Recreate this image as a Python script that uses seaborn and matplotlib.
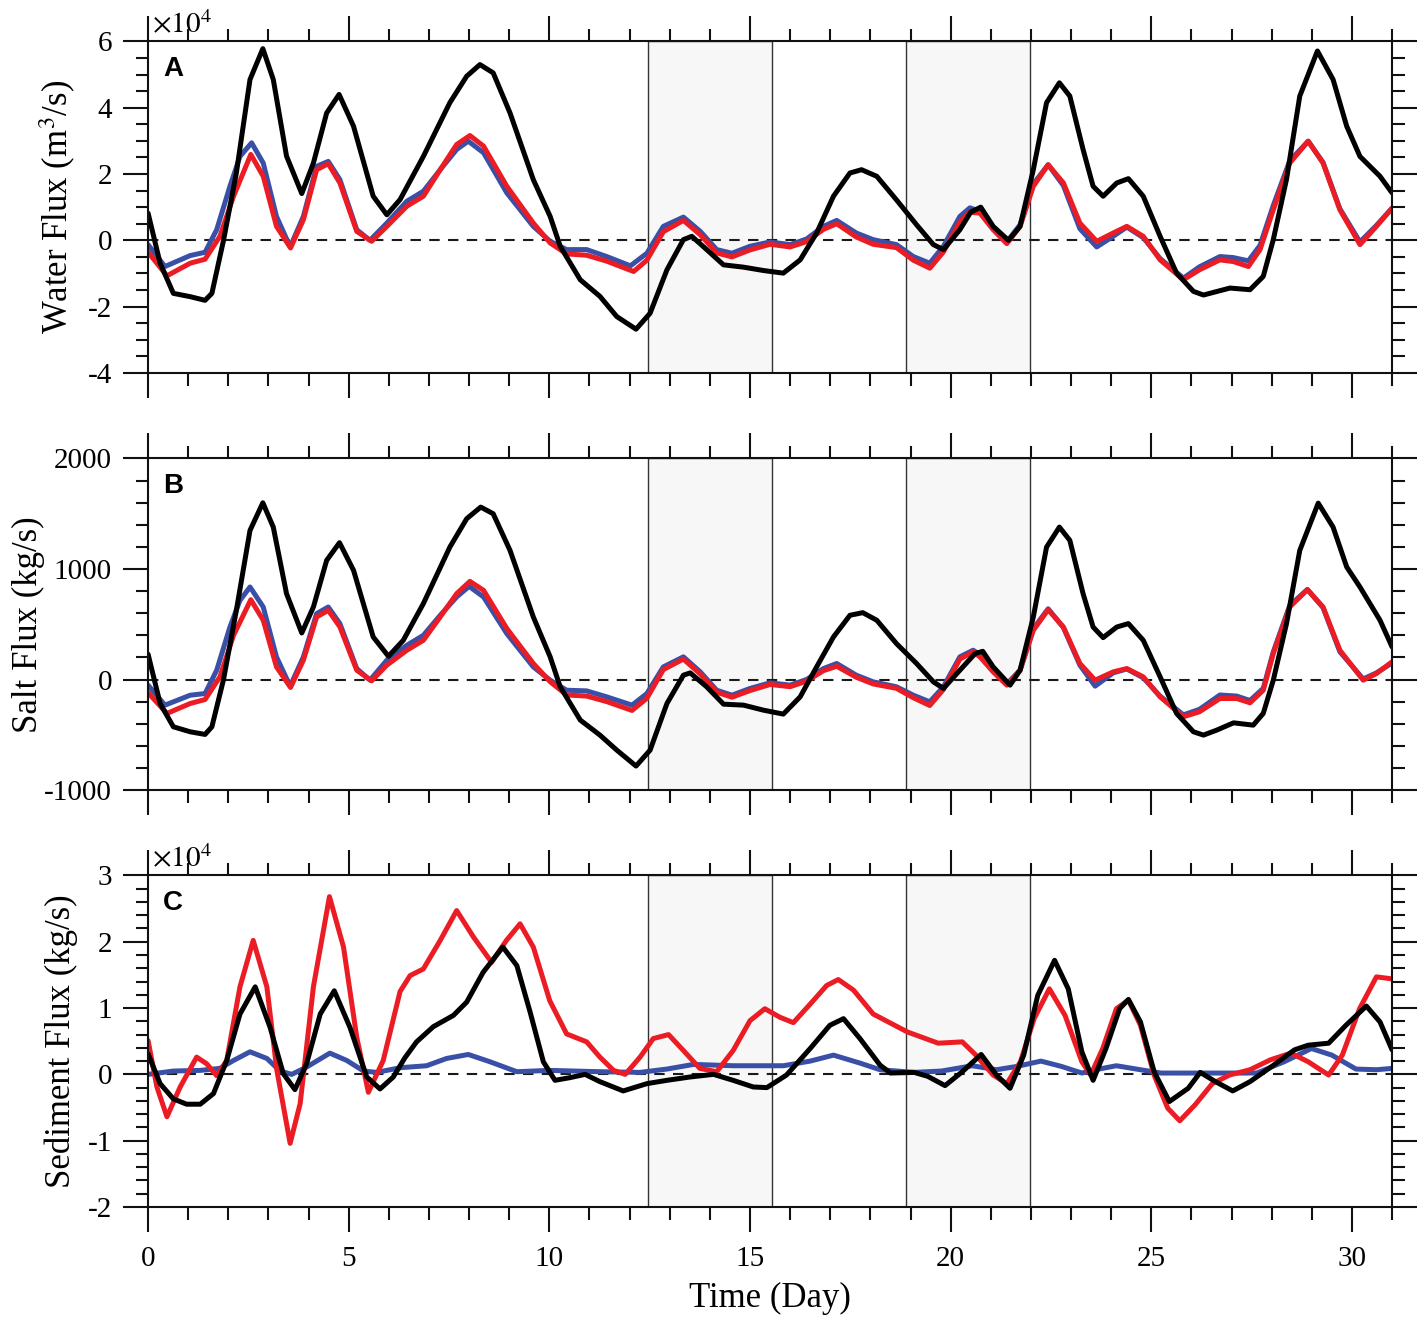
import numpy as np
import seaborn as sns
import matplotlib.pyplot as plt
from matplotlib.ticker import MultipleLocator

# (time in days, value) pairs
# Panel A: water flux, units of 1e4 m3/s
water_black = [(0, 0.82), (0.3, -0.69), (0.63, -1.6), (1.05, -1.7), (1.42, -1.81), (1.59, -1.6),
               (1.88, 0.0), (2.2, 2.03), (2.54, 4.85), (2.86, 5.78), (3.12, 4.85), (3.45, 2.54),
               (3.83, 1.41), (4.12, 2.33), (4.45, 3.84), (4.76, 4.4), (5.12, 3.44), (5.61, 1.33),
               (5.95, 0.77), (6.28, 1.23), (6.86, 2.53), (7.52, 4.15), (7.94, 4.95), (8.27, 5.3),
               (8.6, 5.05), (9.02, 3.84), (9.6, 1.83), (10.02, 0.72), (10.27, -0.18), (10.77, -1.19),
               (11.26, -1.69), (11.68, -2.3), (12.16, -2.68), (12.51, -2.2), (12.93, -0.89),
               (13.34, 0.02), (13.55, 0.12), (13.92, -0.28), (14.34, -0.74), (14.84, -0.81),
               (15.33, -0.91), (15.83, -0.99), (16.25, -0.59), (16.66, 0.22), (17.08, 1.33),
               (17.49, 2.03), (17.78, 2.13), (18.16, 1.93), (18.65, 1.22), (19.15, 0.47),
               (19.57, -0.13), (19.82, -0.28), (20.23, 0.32), (20.5, 0.85), (20.75, 1.0),
               (21.06, 0.42), (21.44, 0.0), (21.73, 0.42), (22.06, 2.13), (22.39, 4.15),
               (22.71, 4.75), (22.97, 4.35), (23.3, 2.74), (23.55, 1.63), (23.8, 1.33),
               (24.14, 1.73), (24.43, 1.86), (24.8, 1.33), (25.22, 0.12), (25.63, -0.99),
               (26.05, -1.54), (26.3, -1.65), (26.96, -1.44), (27.46, -1.49), (27.79, -1.09),
               (28.04, 0.02), (28.37, 1.84), (28.7, 4.35), (29.14, 5.71), (29.53, 4.85),
               (29.87, 3.44), (30.2, 2.53), (30.7, 1.93), (31.0, 1.43)]
water_blue = [(0, -0.13), (0.42, -0.79), (1.05, -0.46), (1.42, -0.36), (1.71, 0.32), (2.04, 1.63),
              (2.29, 2.53), (2.58, 2.94), (2.87, 2.33), (3.2, 0.72), (3.54, -0.2), (3.87, 0.72),
              (4.2, 2.23), (4.49, 2.38), (4.78, 1.83), (5.2, 0.32), (5.53, 0.0), (5.95, 0.52),
              (6.45, 1.18), (6.86, 1.48), (7.28, 2.13), (7.69, 2.74), (7.98, 2.99), (8.36, 2.64),
              (8.94, 1.43), (9.6, 0.42), (10.02, -0.03), (10.43, -0.28), (10.93, -0.28),
              (11.43, -0.49), (12.02, -0.77), (12.43, -0.39), (12.84, 0.42), (13.34, 0.7),
              (13.76, 0.27), (14.17, -0.28), (14.55, -0.39), (15.0, -0.18), (15.5, -0.05),
              (16.0, -0.13), (16.41, 0.04), (16.83, 0.42), (17.16, 0.6), (17.65, 0.22),
              (18.07, 0.02), (18.65, -0.13), (19.07, -0.49), (19.48, -0.69), (19.82, -0.18),
              (20.23, 0.72), (20.48, 0.98), (20.73, 0.87), (21.06, 0.37), (21.4, -0.05),
              (21.73, 0.47), (22.06, 1.7), (22.43, 2.28), (22.81, 1.65), (23.22, 0.35),
              (23.64, -0.2), (24.05, 0.12), (24.39, 0.4), (24.8, 0.08), (25.22, -0.55),
              (25.8, -1.14), (26.2, -0.8), (26.71, -0.49), (27.04, -0.52), (27.42, -0.62),
              (27.71, -0.15), (28.04, 1.05), (28.45, 2.4), (28.91, 2.99), (29.28, 2.35),
              (29.7, 0.95), (30.2, -0.05), (30.61, 0.45), (31.0, 0.97)]
water_red = [(0, -0.36), (0.47, -1.07), (1.05, -0.69), (1.42, -0.57), (1.79, 0.12), (2.13, 1.33),
             (2.56, 2.59), (2.87, 1.93), (3.2, 0.42), (3.55, -0.23), (3.87, 0.62), (4.2, 2.13),
             (4.49, 2.31), (4.78, 1.73), (5.2, 0.27), (5.57, -0.03), (5.95, 0.42), (6.45, 1.03),
             (6.86, 1.33), (7.28, 2.13), (7.69, 2.89), (8.02, 3.16), (8.36, 2.84), (8.94, 1.63),
             (9.6, 0.52), (10.02, -0.08), (10.43, -0.41), (10.93, -0.45), (11.43, -0.63),
             (12.1, -0.94), (12.43, -0.6), (12.84, 0.26), (13.34, 0.6), (13.76, 0.17),
             (14.17, -0.38), (14.55, -0.5), (15.0, -0.29), (15.5, -0.12), (16.0, -0.2),
             (16.41, -0.04), (16.83, 0.33), (17.16, 0.5), (17.65, 0.1), (18.07, -0.12),
             (18.65, -0.22), (19.07, -0.6), (19.48, -0.84), (19.82, -0.35), (20.23, 0.55),
             (20.48, 0.85), (20.73, 0.82), (21.06, 0.32), (21.4, -0.1), (21.73, 0.42),
             (22.06, 1.63), (22.43, 2.28), (22.81, 1.73), (23.22, 0.52), (23.64, -0.03),
             (24.05, 0.22), (24.39, 0.42), (24.8, 0.12), (25.22, -0.59), (25.8, -1.19),
             (26.2, -0.89), (26.71, -0.59), (27.04, -0.64), (27.42, -0.79), (27.71, -0.28),
             (28.04, 0.92), (28.45, 2.33), (28.91, 2.99), (29.28, 2.33), (29.7, 0.92),
             (30.2, -0.13), (30.61, 0.42), (31.0, 0.97)]

# Panel B: salt flux, kg/s
salt_black = [(0, 229), (0.3, -217), (0.63, -428), (1.05, -473), (1.42, -497), (1.59, -428),
              (1.88, 0), (2.2, 626), (2.54, 1349), (2.86, 1599), (3.12, 1379), (3.45, 777),
              (3.83, 421), (4.12, 656), (4.45, 1078), (4.77, 1238), (5.12, 988), (5.61, 385),
              (5.99, 210), (6.36, 355), (6.86, 687), (7.52, 1198), (7.94, 1455), (8.29, 1560),
              (8.6, 1500), (9.02, 1168), (9.6, 566), (10.02, 205), (10.27, -66), (10.77, -367),
              (11.26, -503), (11.68, -639), (12.16, -783), (12.51, -639), (12.93, -217),
              (13.34, 39), (13.51, 60), (13.92, -66), (14.34, -223), (14.84, -232), (15.33, -277),
              (15.83, -313), (16.25, -157), (16.66, 114), (17.08, 385), (17.49, 581), (17.81, 605),
              (18.16, 536), (18.65, 325), (19.15, 145), (19.57, -21), (19.82, -81), (20.23, 84),
              (20.61, 235), (20.8, 255), (21.06, 114), (21.48, -51), (21.73, 84), (22.06, 566),
              (22.39, 1198), (22.71, 1379), (22.97, 1259), (23.3, 777), (23.55, 475), (23.8, 379),
              (24.14, 475), (24.43, 506), (24.8, 355), (25.22, 24), (25.63, -307), (26.05, -473),
              (26.3, -503), (26.63, -458), (27.05, -392), (27.54, -413), (27.79, -307),
              (28.04, -6), (28.37, 506), (28.7, 1168), (29.16, 1596), (29.53, 1379),
              (29.87, 1018), (30.2, 837), (30.7, 536), (31.0, 295)]
salt_blue = [(0, -51), (0.42, -232), (1.05, -142), (1.42, -127), (1.71, 84), (2.04, 475),
             (2.29, 716), (2.54, 837), (2.87, 656), (3.2, 204), (3.54, -60), (3.87, 204),
             (4.2, 596), (4.49, 656), (4.78, 506), (5.2, 99), (5.53, -6), (5.95, 175), (6.45, 310),
             (6.86, 400), (7.28, 581), (7.69, 747), (8.0, 843), (8.36, 747), (8.94, 415),
             (9.6, 114), (10.02, -6), (10.43, -97), (10.93, -103), (11.43, -157), (12.06, -232),
             (12.43, -127), (12.84, 114), (13.34, 205), (13.76, 69), (14.17, -97), (14.55, -142),
             (15.0, -81), (15.5, -30), (16.0, -51), (16.41, 0), (16.83, 99), (17.16, 145),
             (17.65, 39), (18.07, -21), (18.65, -66), (19.07, -142), (19.48, -202), (19.82, -66),
             (20.23, 205), (20.56, 265), (20.73, 225), (21.06, 80), (21.4, -40), (21.73, 84),
             (22.06, 460), (22.43, 640), (22.81, 470), (23.22, 130), (23.6, -60), (24.05, 60),
             (24.39, 95), (24.8, 15), (25.22, -150), (25.8, -320), (26.2, -270), (26.71, -140),
             (27.13, -150), (27.46, -190), (27.79, -80), (28.04, 250), (28.45, 670),
             (28.89, 815), (29.28, 650), (29.7, 250), (30.28, 5), (30.61, 60), (31.0, 150)]
salt_red = [(0, -120), (0.47, -307), (1.05, -217), (1.42, -181), (1.79, 24), (2.13, 400),
            (2.56, 722), (2.87, 536), (3.2, 114), (3.55, -72), (3.87, 175), (4.2, 566),
            (4.49, 626), (4.78, 476), (5.2, 84), (5.57, -12), (5.95, 130), (6.45, 265),
            (6.86, 355), (7.28, 566), (7.69, 777), (8.02, 888), (8.36, 807), (8.94, 461),
            (9.6, 145), (10.02, -20), (10.43, -140), (10.93, -150), (11.43, -200), (12.06, -280),
            (12.43, -170), (12.84, 90), (13.34, 185), (13.76, 50), (14.17, -115), (14.55, -160),
            (15.0, -100), (15.5, -45), (16.0, -65), (16.41, -15), (16.83, 80), (17.16, 120),
            (17.65, 20), (18.07, -40), (18.65, -80), (19.07, -165), (19.48, -235), (19.82, -90),
            (20.23, 185), (20.56, 250), (20.73, 205), (21.06, 69), (21.4, -51), (21.73, 84),
            (22.06, 445), (22.43, 632), (22.81, 475), (23.22, 145), (23.6, -6), (24.05, 69),
            (24.39, 99), (24.8, 24), (25.22, -157), (25.8, -337), (26.2, -292), (26.71, -172),
            (27.13, -172), (27.46, -211), (27.79, -97), (28.04, 235), (28.45, 656),
            (28.89, 813), (29.28, 656), (29.7, 265), (30.28, -6), (30.61, 54), (31.0, 160)]

# Panel C: sediment flux, units of 1e4 kg/s
sed_black = [(0, 0.31), (0.3, -0.14), (0.63, -0.37), (0.96, -0.45), (1.3, -0.45), (1.63, -0.29),
             (1.96, 0.21), (2.29, 0.91), (2.67, 1.32), (3.04, 0.71), (3.37, 0.01), (3.66, -0.23),
             (3.95, 0.16), (4.29, 0.91), (4.64, 1.26), (5.03, 0.71), (5.45, -0.04), (5.78, -0.22),
             (6.11, -0.04), (6.4, 0.25), (6.69, 0.49), (7.11, 0.72), (7.61, 0.89), (7.94, 1.09),
             (8.35, 1.54), (8.84, 1.92), (9.19, 1.64), (9.52, 0.94), (9.85, 0.19), (10.14, -0.09),
             (10.51, -0.05), (10.89, 0.0), (11.26, -0.11), (11.84, -0.25), (12.43, -0.14),
             (12.93, -0.09), (13.5, -0.04), (14.09, 0.0), (14.58, -0.09), (15.08, -0.19),
             (15.42, -0.2), (15.91, -0.01), (16.5, 0.39), (16.99, 0.74), (17.33, 0.84),
             (17.74, 0.54), (18.24, 0.14), (18.5, 0.02), (19.09, 0.03), (19.43, -0.03),
             (19.86, -0.17), (20.29, 0.04), (20.76, 0.3), (21.14, -0.01), (21.48, -0.21),
             (21.82, 0.29), (22.17, 1.19), (22.59, 1.72), (22.93, 1.29), (23.27, 0.34),
             (23.55, -0.09), (23.87, 0.39), (24.21, 0.99), (24.43, 1.13), (24.73, 0.79),
             (25.07, 0.04), (25.45, -0.41), (25.92, -0.21), (26.22, 0.03), (26.6, -0.11),
             (27.03, -0.25), (27.46, -0.11), (28.05, 0.14), (28.57, 0.37), (28.91, 0.44),
             (29.42, 0.47), (29.85, 0.74), (30.36, 1.03), (30.7, 0.79), (31.0, 0.37)]
sed_blue = [(0, 0.0), (0.63, 0.05), (1.3, 0.06), (1.79, 0.09), (2.13, 0.21), (2.54, 0.34),
            (2.96, 0.24), (3.29, 0.05), (3.58, 0.0), (3.95, 0.11), (4.53, 0.32), (4.95, 0.21),
            (5.37, 0.05), (5.7, 0.03), (6.28, 0.1), (6.94, 0.13), (7.44, 0.24), (7.98, 0.3),
            (8.52, 0.19), (9.19, 0.04), (10.01, 0.06), (11.26, 0.04), (12.26, 0.03), (12.93, 0.08),
            (13.59, 0.15), (14.58, 0.13), (15.83, 0.13), (16.5, 0.2), (17.08, 0.29), (17.74, 0.17),
            (18.24, 0.07), (19.09, 0.03), (19.77, 0.05), (20.54, 0.13), (21.14, 0.07),
            (21.65, 0.12), (22.25, 0.2), (22.76, 0.12), (23.27, 0.02), (23.61, 0.07),
            (24.13, 0.13), (24.73, 0.07), (25.24, 0.02), (26.78, 0.02), (27.63, 0.02),
            (28.31, 0.19), (28.99, 0.39), (29.5, 0.29), (30.1, 0.08), (30.61, 0.07), (31.0, 0.09)]
sed_red = [(0, 0.51), (0.22, -0.19), (0.47, -0.64), (0.8, -0.19), (1.21, 0.26), (1.46, 0.16),
           (1.71, -0.02), (1.96, 0.21), (2.29, 1.32), (2.62, 2.02), (2.96, 1.32), (3.21, 0.06),
           (3.54, -1.04), (3.79, -0.44), (4.12, 1.32), (4.52, 2.68), (4.87, 1.92), (5.2, 0.56),
           (5.49, -0.27), (5.86, 0.21), (6.28, 1.25), (6.53, 1.49), (6.86, 1.59), (7.28, 2.02),
           (7.69, 2.47), (8.11, 2.07), (8.56, 1.69), (8.93, 2.02), (9.27, 2.27), (9.6, 1.92),
           (10.01, 1.11), (10.43, 0.61), (10.93, 0.49), (11.26, 0.26), (11.6, 0.06), (11.89, 0.0),
           (12.26, 0.26), (12.59, 0.54), (12.97, 0.6), (13.34, 0.36), (13.75, 0.09), (14.17, 0.04),
           (14.58, 0.36), (15.0, 0.81), (15.37, 0.99), (15.75, 0.86), (16.08, 0.78), (16.5, 1.06),
           (16.91, 1.34), (17.2, 1.43), (17.58, 1.27), (18.07, 0.91), (18.92, 0.64), (19.69, 0.47),
           (20.29, 0.49), (20.63, 0.29), (21.06, -0.01), (21.4, -0.14), (21.74, 0.19),
           (22.08, 0.84), (22.46, 1.29), (22.85, 0.89), (23.27, 0.19), (23.49, -0.01),
           (23.79, 0.39), (24.13, 0.99), (24.43, 1.12), (24.73, 0.74), (25.07, -0.01),
           (25.41, -0.51), (25.71, -0.7), (26.09, -0.46), (26.52, -0.14), (26.95, -0.01),
           (27.46, 0.07), (27.97, 0.22), (28.48, 0.32), (28.91, 0.19), (29.42, -0.01),
           (29.76, 0.29), (30.19, 0.99), (30.61, 1.47), (31.0, 1.44)]

# shaded periods (days)
shade_spans = [(12.46, 15.55), (18.88, 21.97)]

colors = {'blue': '#3a4fa6', 'red': '#ec1c24', 'black': '#000000'}

sns.set_theme(style='ticks')
plt.rcParams['font.family'] = ['Liberation Serif', 'DejaVu Serif']
plt.rcParams['mathtext.fontset'] = 'stix'
plt.rcParams['axes.unicode_minus'] = False
plt.rcParams['text.color'] = 'black'
plt.rcParams['axes.labelcolor'] = 'black'
plt.rcParams['xtick.color'] = 'black'
plt.rcParams['ytick.color'] = 'black'
plt.rcParams['lines.solid_joinstyle'] = 'round'
plt.rcParams['lines.solid_capstyle'] = 'round'

fig = plt.figure(figsize=(14.17, 13.22), dpi=100)

panels = [
    dict(bottom=0.7179, series=(water_blue, water_red, water_black), ylim=(-4, 6),
         major=2, minor=0.5, ylabel='Water Flux (m$^3$/s)', letter='A', sci=True, labx=-0.056),
    dict(bottom=0.4024, series=(salt_blue, salt_red, salt_black), ylim=(-1000, 2000),
         major=1000, minor=200, ylabel='Salt Flux (kg/s)', letter='B', sci=False, labx=-0.083),
    dict(bottom=0.0870, series=(sed_blue, sed_red, sed_black), ylim=(-2, 3),
         major=1, minor=0.2, ylabel='Sediment Flux (kg/s)', letter='C', sci=True, labx=-0.056),
]

for i, p in enumerate(panels):
    ax = fig.add_axes([0.1045, p['bottom'], 0.8779, 0.2508])
    for t0, t1 in shade_spans:
        ax.axvspan(t0, t1, facecolor='#f7f7f7', edgecolor='#333333', lw=1.0, zorder=0)
    ax.axhline(0, color='k', ls=(0, (5, 4)), lw=1.5, zorder=1)
    for data, cname in zip(p['series'], ['blue', 'red', 'black']):
        arr = np.array(data, dtype=float)
        sns.lineplot(x=arr[:, 0], y=arr[:, 1], ax=ax, color=colors[cname],
                     linewidth=3.6, legend=False, zorder=2)

    ax.set_xlim(0, 31)
    ax.set_ylim(*p['ylim'])
    ax.xaxis.set_major_locator(MultipleLocator(5))
    ax.xaxis.set_minor_locator(MultipleLocator(1))
    ax.yaxis.set_major_locator(MultipleLocator(p['major']))
    ax.yaxis.set_minor_locator(MultipleLocator(p['minor']))
    ax.tick_params(which='both', direction='out', top=True, right=True,
                   width=1.5, color='#111111', labelcolor='black', labelsize=21)
    ax.tick_params(which='major', length=18)
    ax.tick_params(which='minor', length=9)
    ax.tick_params(axis='y', pad=8)
    ax.tick_params(axis='x', pad=10)
    for sp in ax.spines.values():
        sp.set_linewidth(1.5)
        sp.set_color('#111111')

    ax.set_ylabel(p['ylabel'], fontsize=25, color='black')
    ax.yaxis.set_label_coords(p['labx'], 0.5)
    ax.text(0.012, 0.955, p['letter'], transform=ax.transAxes, fontsize=20,
            fontweight='bold', family='Liberation Sans', ha='left', va='top', color='black')
    if p['sci']:
        ax.text(0.003, 1.025, r'$\times10^4$', transform=ax.transAxes,
                fontsize=21, ha='left', va='baseline', color='black')
    if i < 2:
        ax.tick_params(labelbottom=False)
    else:
        ax.set_xlabel('Time (Day)', fontsize=25, color='black')
        ax.xaxis.set_label_coords(0.5, -0.225)
    ax.set_facecolor('white')

fig.savefig('out.png', dpi=100, facecolor='white')
